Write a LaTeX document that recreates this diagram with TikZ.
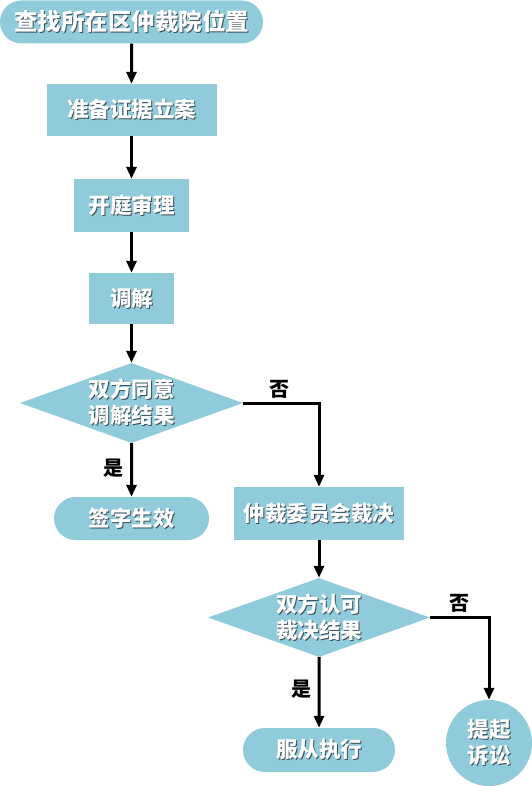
\documentclass[tikz,border=0pt]{standalone}
\usepackage{fontspec}
\newfontfamily\cjk{Noto Sans CJK SC}
\usetikzlibrary{arrows.meta,shapes.geometric,shapes.misc}
\definecolor{boxblue}{RGB}{143,203,218}
\definecolor{shadowgray}{RGB}{60,80,90}
\newcommand\shd[1]{\leavevmode\rlap{\kern1.2pt\raisebox{-1.2pt}{\color{shadowgray}#1}}#1}
\tikzset{
    box/.style={rectangle, fill=boxblue, text=white, inner sep=0pt, align=center,
        font=\cjk\bfseries\fontsize{21.5}{26}\selectfont},
    term/.style={box, rounded rectangle},
    decide/.style={box, diamond, aspect=2.8},
    flow/.style={line width=3pt, -{Triangle[length=12pt,width=10pt]}},
    lbl/.style={text=black, font=\cjk\bfseries\fontsize{20}{20}\selectfont}
}
\begin{document}
\begin{tikzpicture}[x=1pt,y=-1pt]
            \fill[white] (0,0) rectangle (532,786);
            \useasboundingbox (0,0) rectangle (532,786);
            % left column
            \node[term, minimum width=263pt, minimum height=43pt, font=\cjk\bfseries\fontsize{23.5}{26}\selectfont] (find) at (131.5,22) {\shd{查找所在区仲裁院位置}};
            \node[box, minimum width=170pt, minimum height=52pt] (prepare) at (131.5,110) {\shd{准备证据立案}};
            \node[box, minimum width=115pt, minimum height=53pt] (hearing) at (131.5,205.5) {\shd{开庭审理}};
            \node[box, minimum width=85pt, minimum height=51pt] (mediate) at (131.5,298.5) {\shd{调解}};
            \node[decide, minimum width=223pt, minimum height=80pt] (agree) at (131.5,403) {\shd{双方同意}\\\shd{调解结果}};
            \node[term, minimum width=155pt, minimum height=43pt] (sign) at (131.5,518.5) {\shd{签字生效}};
            % right column
            \node[box, minimum width=170pt, minimum height=53pt] (award) at (319,513.5) {\shd{仲裁委员会裁决}};
            \node[decide, minimum width=222pt, minimum height=79pt] (accept) at (319,617.5) {\shd{双方认可}\\\shd{裁决结果}};
            \node[term, minimum width=152pt, minimum height=44pt] (obey) at (319,750) {\shd{服从执行}};
            \node[box, circle, minimum size=86pt] (sue) at (489,743) {\shd{提起}\\\shd{诉讼}};

            \draw[flow] (find) -- (prepare);
            \draw[flow] (prepare) -- (hearing);
            \draw[flow] (hearing) -- (mediate);
            \draw[flow] (mediate) -- (agree);
            \draw[flow] (agree) -- node[lbl, left, pos=0.46, xshift=-3pt] {是} (sign);
            \draw[flow] (agree.east) -| node[lbl, above, pos=0.24] {否} (award.north);
            \draw[flow] (award) -- (accept);
            \draw[flow] (accept) -- node[lbl, left, pos=0.46, xshift=-3pt] {是} (obey);
            \draw[flow] (accept.east) -| node[lbl, above, pos=0.25] {否} (sue.north);
        \end{tikzpicture}
\end{document}
